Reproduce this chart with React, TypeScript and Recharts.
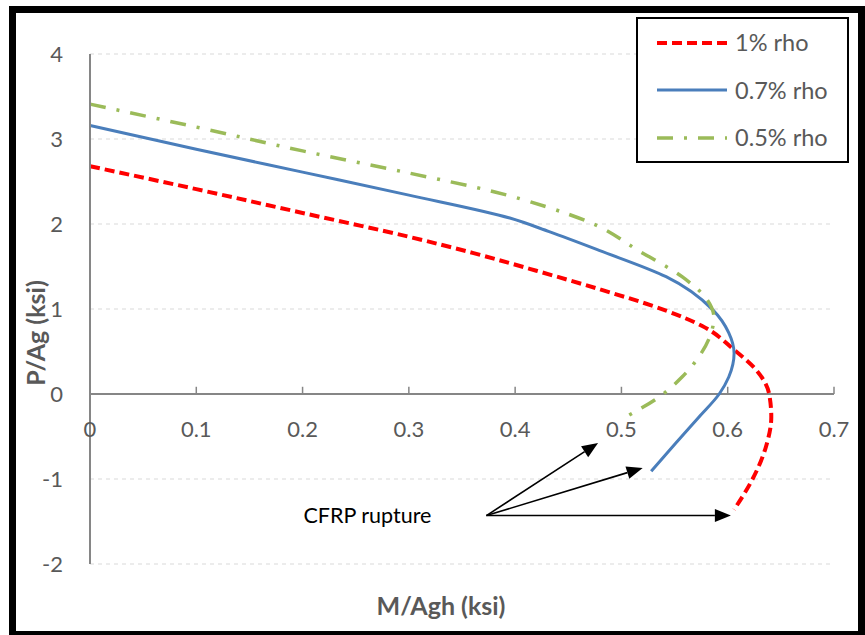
import {
  LineChart,
  Line,
  XAxis,
  YAxis,
  CartesianGrid,
  ReferenceLine,
  ReferenceDot,
  Legend,
} from "recharts";

const mTicks = [0, 0.1, 0.2, 0.3, 0.4, 0.5, 0.6, 0.7];
const pTicks = [-2, -1, 0, 1, 2, 3, 4];

// interaction curves, M/Agh vs P/Ag (ksi)
const rho1M = [0, 0.1, 0.2, 0.3, 0.36, 0.42, 0.48, 0.54, 0.576, 0.606, 0.627, 0.639, 0.641, 0.636, 0.623, 0.606];
const rho1P = [2.68, 2.41, 2.13, 1.85, 1.66, 1.45, 1.23, 0.99, 0.8, 0.52, 0.28, 0.0, -0.27, -0.62, -1.01, -1.36];

const rho07M = [0, 0.1, 0.2, 0.3, 0.395, 0.432, 0.479, 0.542, 0.586, 0.601, 0.606, 0.601, 0.592, 0.573, 0.551, 0.528];
const rho07P = [3.16, 2.88, 2.61, 2.34, 2.07, 1.91, 1.69, 1.38, 0.99, 0.72, 0.48, 0.2, 0.0, -0.27, -0.58, -0.91];

const rho05M = [0, 0.1, 0.2, 0.3, 0.38, 0.43, 0.47, 0.517, 0.557, 0.58, 0.587, 0.583, 0.573, 0.557, 0.536, 0.504];
const rho05P = [3.41, 3.14, 2.86, 2.6, 2.38, 2.2, 2.02, 1.68, 1.38, 1.12, 0.9, 0.67, 0.44, 0.2, -0.03, -0.27];

// "CFRP rupture" callout: one tail, three arrow heads
const ruptureTail = { m: 0.373, p: -1.43 };
const ruptureHeadM = [0.478, 0.52, 0.603];
const ruptureHeadP = [-0.576, -0.87, -1.43];

const toPoints = (m: number[], p: number[]) => m.map((x, i) => ({ m: x, p: p[i] }));

const series = [
  { name: "1% rho", data: toPoints(rho1M, rho1P), color: "#FF0000", dash: "10 5", width: 4 },
  { name: "0.7% rho", data: toPoints(rho07M, rho07P), color: "#4A7EBB", dash: undefined, width: 3 },
  { name: "0.5% rho", data: toPoints(rho05M, rho05P), color: "#9BBB59", dash: "16 11 3 11", width: 3.5 },
];

const textGray = "#595959";
const axisGray = "#868686";

function Arrow(props: any) {
  const { x1, y1, x2, y2 } = props;
  const dx = x2 - x1;
  const dy = y2 - y1;
  const len = Math.hypot(dx, dy) || 1;
  const ux = dx / len;
  const uy = dy / len;
  const head = 16;
  const half = 6.5;
  const bx = x2 - ux * head;
  const by = y2 - uy * head;
  return (
    <g>
      <line x1={x1} y1={y1} x2={bx} y2={by} stroke="#000" strokeWidth={1.6} />
      <polygon
        points={`${x2},${y2} ${bx - uy * half},${by + ux * half} ${bx + uy * half},${by - ux * half}`}
        fill="#000"
      />
    </g>
  );
}

function LegendBox() {
  return (
    <div
      style={{
        width: 213,
        height: 146,
        boxSizing: "border-box",
        border: "2px solid #000",
        background: "#fff",
        paddingLeft: 19,
      }}
    >
      {series.map((s) => (
        <div key={s.name} style={{ display: "flex", alignItems: "center", height: 47.5 }}>
          <svg width={70} height={10}>
            <line
              x1={0}
              y1={5}
              x2={70}
              y2={5}
              stroke={s.color}
              strokeWidth={s.width}
              strokeDasharray={s.dash}
            />
          </svg>
          <span style={{ marginLeft: 8, fontSize: 23.5, color: textGray, lineHeight: 1 }}>{s.name}</span>
        </div>
      ))}
    </div>
  );
}

export default function App() {
  return (
    <div
      style={{
        position: "absolute",
        left: 0,
        top: 0,
        width: 865,
        height: 635,
        background: "#fff",
        fontFamily: "Lato, 'Noto Sans', sans-serif",
      }}
    >
      <LineChart
        width={865}
        height={635}
        margin={{ top: 54, right: 31, bottom: 71, left: 20 }}
      >
        <CartesianGrid
          vertical={false}
          stroke="#d9d9d9"
          strokeDasharray="4 4"
          strokeWidth={1.2}
        />
        <XAxis dataKey="m" type="number" domain={[0, 0.7]} ticks={mTicks} hide />
        <YAxis
          type="number"
          domain={[-2, 4]}
          ticks={pTicks}
          width={70}
          axisLine={{ stroke: axisGray, strokeWidth: 2 }}
          tickLine={false}
          tickSize={0}
          tickMargin={27}
          tick={{ fill: textGray, fontSize: 22 }}
        />
        <ReferenceLine y={0} stroke={axisGray} strokeWidth={2} />
        {mTicks.map((t) => (
          <ReferenceLine
            key={t}
            segment={[
              { x: t, y: 0 },
              { x: t, y: 0.085 },
            ]}
            stroke={axisGray}
            strokeWidth={1.5}
            label={{ value: String(t), position: "bottom", offset: 27, fill: textGray, fontSize: 22 }}
          />
        ))}
        {series.map((s) => (
          <Line
            key={s.name}
            data={s.data}
            dataKey="p"
            name={s.name}
            type="monotoneY"
            stroke={s.color}
            strokeWidth={s.width}
            strokeDasharray={s.dash}
            dot={false}
            isAnimationActive={false}
          />
        ))}
        {ruptureHeadM.map((m, i) => (
          <ReferenceLine
            key={i}
            segment={[
              { x: ruptureTail.m, y: ruptureTail.p },
              { x: m, y: ruptureHeadP[i] },
            ]}
            shape={Arrow}
          />
        ))}
        <ReferenceDot
          x={ruptureTail.m}
          y={ruptureTail.p}
          r={0}
          stroke="none"
          fill="none"
          label={{ value: "CFRP rupture", position: "left", offset: 55, fill: "#000", fontSize: 21.5 }}
        />
        <Legend
          layout="vertical"
          align="center"
          verticalAlign="middle"
          wrapperStyle={{ left: 636, top: 17, width: 213, height: 146 }}
          content={() => <LegendBox />}
        />
      </LineChart>

      <div
        style={{
          position: "absolute",
          left: 441,
          top: 605,
          transform: "translate(-50%, -50%)",
          fontSize: 25,
          fontWeight: 700,
          color: textGray,
          whiteSpace: "nowrap",
        }}
      >
        M/Agh (ksi)
      </div>
      <div
        style={{
          position: "absolute",
          left: 35,
          top: 333,
          transform: "translate(-50%, -50%) rotate(-90deg)",
          fontSize: 25,
          fontWeight: 700,
          color: textGray,
          whiteSpace: "nowrap",
        }}
      >
        P/Ag (ksi)
      </div>

      {/* frame */}
      <div
        style={{
          position: "absolute",
          left: 9,
          top: 6,
          right: 0,
          bottom: 0,
          boxSizing: "border-box",
          borderStyle: "solid",
          borderColor: "#000",
          borderWidth: "7px 7px 4px 7px",
          pointerEvents: "none",
        }}
      />
    </div>
  );
}
